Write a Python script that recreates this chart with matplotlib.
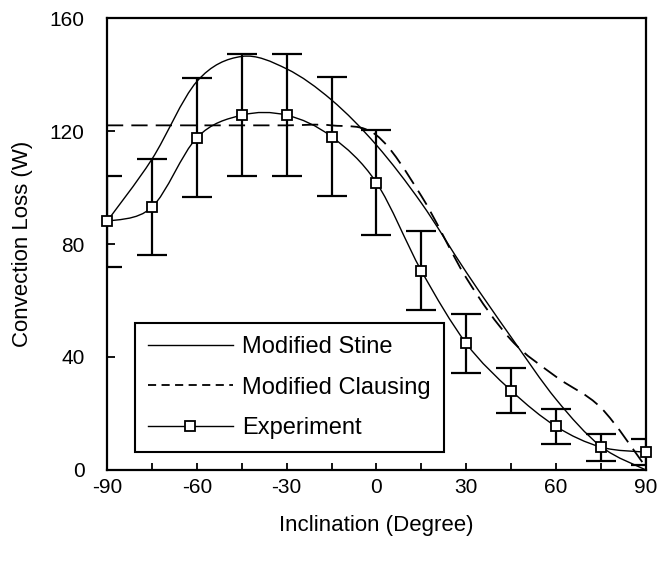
import numpy as np
import matplotlib
matplotlib.use('Agg')
import matplotlib.pyplot as plt
from matplotlib.path import Path
from matplotlib.patches import PathPatch
from matplotlib.lines import Line2D

plt.rcParams['font.family'] = ['Liberation Sans', 'DejaVu Sans']
plt.rcParams['axes.unicode_minus'] = False

# data
inclination = [-90, -75, -60, -45, -30, -15, 0, 15, 30, 45, 60, 75, 90]
stine = [88, 110, 137.5, 146.4, 142, 131, 115, 94.5, 70, 47, 25, 8.3, 0]
clausing = [122, 122, 122, 122, 122, 122, 118.5, 97, 68, 46, 33, 22, 1]
experiment = [88, 93, 117.6, 125.6, 125.6, 118, 101.7, 70.5, 44.8, 28.1, 15.4, 8.1, 6.3]
exp_err = [16, 17, 21, 21.5, 21.5, 21, 18.5, 14, 10.3, 8, 6.2, 4.8, 4.5]


def smooth_path(x, y):
    # spreadsheet-style smoothed line: bezier segments with catmull-rom handles
    p = np.column_stack([x, y]).astype(float)
    n = len(p)
    verts = [p[0]]
    codes = [Path.MOVETO]
    for i in range(n - 1):
        p0 = p[i - 1] if i > 0 else p[i]
        p1, p2 = p[i], p[i + 1]
        p3 = p[i + 2] if i + 2 < n else p[i + 1]
        verts += [p1 + (p2 - p0) / 6, p2 - (p3 - p1) / 6, p2]
        codes += [Path.CURVE4] * 3
    return Path(verts, codes)


fig = plt.figure(figsize=(6.64, 5.63), dpi=100)
ax = fig.add_axes([0.1611, 0.1652, 0.8117, 0.8028])

ax.add_patch(PathPatch(smooth_path(inclination, stine), fill=False,
                       edgecolor='black', lw=1.0, zorder=3))
ax.add_patch(PathPatch(smooth_path(inclination, clausing), fill=False,
                       edgecolor='black', lw=1.3, linestyle=(0, (9, 4.5)), zorder=3))
ax.add_patch(PathPatch(smooth_path(inclination, experiment), fill=False,
                       edgecolor='black', lw=1.0, zorder=3))

ax.errorbar(inclination, experiment, yerr=exp_err, fmt='none', ecolor='black',
            elinewidth=1.6, capsize=11, capthick=1.6, zorder=4)
ax.plot(inclination, experiment, 's', ms=7, mfc='white', mec='black', mew=1.3,
        zorder=5, clip_on=False)

ax.set_xlim(-90, 90)
ax.set_ylim(0, 160)
ax.set_xticks(np.arange(-90, 91, 30))
ax.set_xticks(np.arange(-90, 91, 15), minor=True)
ax.set_yticks(np.arange(0, 161, 40))
ax.tick_params(axis='x', which='both', direction='in', length=5, width=1.3,
               labelsize=15, pad=6, top=False)
ax.tick_params(axis='y', direction='in', length=6, width=1.3, labelsize=15,
               pad=16, right=False)
for s in ax.spines.values():
    s.set_linewidth(1.6)

ax.set_xlabel('Inclination (Degree)', fontsize=16, labelpad=13)
ax.set_ylabel('Convection Loss (W)', fontsize=16, labelpad=12)

handles = [
    Line2D([], [], color='black', lw=1.0),
    Line2D([], [], color='black', lw=1.3, linestyle=(0, (4.5, 3))),
    Line2D([], [], color='black', lw=1.0, marker='s', ms=7, mfc='white', mec='black', mew=1.3),
]
labels = ['Modified Stine', 'Modified Clausing', 'Experiment']
leg = ax.legend(handles, labels, loc='lower left', bbox_to_anchor=(0.052, 0.04),
                fontsize=17, frameon=True, fancybox=False, edgecolor='black',
                framealpha=1, handlelength=3.6, handletextpad=0.4, labelspacing=0.78,
                borderpad=0.55, numpoints=1, borderaxespad=0)
leg.get_frame().set_linewidth(1.5)

fig.savefig('out.png', dpi=100)
